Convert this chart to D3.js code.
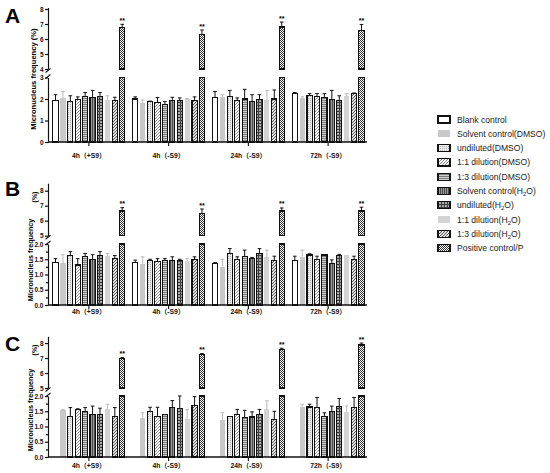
<!DOCTYPE html>
<html><head><meta charset="utf-8">
<script src="https://cdn.jsdelivr.net/npm/d3@7"></script>
<style>body{margin:0;background:#fff} svg{display:block}</style>
</head><body><svg id="c" width="550" height="473"></svg>
<script>
// ---------- DATA ----------
const groups = ["4h（+S9）", "4h（-S9）", "24h（-S9）", "72h（-S9）"];
const seriesNames = ["Blank control", "Solvent control(DMSO)", "undiluted(DMSO)", "1:1 dilution(DMSO)",
  "1:3 dilution(DMSO)", "Solvent control(H2O)", "undiluted(H2O)", "1:1 dilution(H2O)", "1:3 dilution(H2O)", "Positive control/P"];

// Panel A means / SD
const A_4hp = [1.92, 2.05, 1.87, 1.97, 2.10, 2.08, 2.10, 1.95, 1.95, 6.75];
const A_4hp_sd = [0.28, 0.30, 0.28, 0.13, 0.20, 0.32, 0.20, 0.20, 0.13, 0.23];
const A_4hm = [2.00, 1.80, 1.87, 1.82, 1.75, 1.93, 1.92, 1.98, 1.92, 6.33];
const A_4hm_sd = [0.10, 0.15, 0.03, 0.25, 0.13, 0.15, 0.13, 0.04, 0.18, 0.27];
const A_24h = [2.05, 2.08, 2.10, 1.95, 2.00, 1.88, 1.97, 1.95, 2.00, 6.80];
const A_24h_sd = [0.30, 0.12, 0.30, 0.10, 0.45, 0.32, 0.23, 0.45, 0.42, 0.33];
const A_72h = [2.25, 2.05, 2.15, 2.12, 2.08, 1.98, 1.92, 2.12, 2.25, 6.55];
const A_72h_sd = [0.05, 0.05, 0.10, 0.13, 0.17, 0.42, 0.23, 0.13, 0.03, 0.42];

// Panel B
const B_4hp = [1.40, 1.37, 1.62, 1.31, 1.58, 1.50, 1.62, 1.60, 1.53, 6.65];
const B_4hp_sd = [0.12, 0.28, 0.13, 0.21, 0.11, 0.15, 0.13, 0.09, 0.09, 0.22];
const B_4hm = [1.40, 1.33, 1.47, 1.42, 1.45, 1.47, 1.47, 1.44, 1.50, 6.50];
const B_4hm_sd = [0.07, 0.25, 0.03, 0.10, 0.07, 0.11, 0.03, 0.08, 0.08, 0.28];
const B_24h = [1.37, 1.26, 1.69, 1.50, 1.58, 1.53, 1.69, 1.56, 1.45, 6.65];
const B_24h_sd = [0.02, 0.24, 0.16, 0.08, 0.22, 0.03, 0.16, 0.24, 0.15, 0.20];
const B_72h = [1.45, 1.58, 1.64, 1.48, 1.64, 1.37, 1.63, 1.64, 1.50, 6.65];
const B_72h_sd = [0.15, 0.22, 0.04, 0.12, 0.01, 0.11, 0.03, 0.00, 0.10, 0.25];

// Panel C (no blank control)
const C_4hp = [null, 1.53, 1.33, 1.56, 1.48, 1.39, 1.39, 1.58, 1.33, 6.95];
const C_4hp_sd = [0, 0.02, 0.29, 0.02, 0.14, 0.28, 0.21, 0.15, 0.29, 0.08];
const C_4hm = [null, 1.27, 1.49, 1.32, 1.38, 1.63, 1.58, 1.24, 1.68, 7.22];
const C_4hm_sd = [0, 0.18, 0.14, 0.31, 0.01, 0.22, 0.42, 0.31, 0.30, 0.08];
const C_24h = [null, 1.21, 1.34, 1.38, 1.29, 1.31, 1.38, 1.56, 1.23, 7.55];
const C_24h_sd = [0, 0.24, 0.00, 0.18, 0.24, 0.17, 0.18, 0.28, 0.27, 0.10];
const C_72h = [null, 1.64, 1.64, 1.62, 1.32, 1.48, 1.67, 1.48, 1.62, 7.87];
const C_72h_sd = [0, 0.09, 0.09, 0.33, 0.13, 0.19, 0.25, 0.19, 0.33, 0.13];

const A_lowTicks = [0, 1, 2, 3], A_upTicks = [4, 5, 6, 7, 8];
const BC_lowTicks = [0, 0.5, 1.0, 1.5, 2.0], BC_upTicks = [5, 6, 7, 8];

// ---------- STYLE ----------
const svg = d3.select("#c");
const defs = svg.append("defs");
function pat(id, w, h, bg, cells) {
  const p = defs.append("pattern").attr("id", id).attr("patternUnits", "userSpaceOnUse")
    .attr("width", w).attr("height", h);
  p.append("rect").attr("width", w).attr("height", h).attr("fill", bg);
  cells.forEach(c => p.append("rect").attr("x", c[0]).attr("y", c[1]).attr("width", c[2]).attr("height", c[3]).attr("fill", c[4]));
}
pat("pDots", 2, 2, "#eaeaea", [[0, 0, 1, 1, "#b5b5b5"]]);
pat("pCheck", 3, 3, "#ffffff", [[0, 0, 1, 1, "#777"], [1, 2, 1, 1, "#999"], [2, 1, 1, 1, "#888"]]);
pat("pH", 2, 2, "#d2d2d2", [[0, 0, 2, 1, "#7a7a7a"]]);
pat("pV", 2, 2, "#9a9a9a", [[0, 0, 1, 2, "#4a4a4a"]]);
pat("pGrid", 3, 3, "#a8a8a8", [[0, 0, 3, 1, "#404040"], [0, 0, 1, 3, "#404040"]]);
pat("pX", 3, 3, "#e4e4e4", [[0, 0, 1, 1, "#555"], [2, 1, 1, 1, "#555"], [1, 2, 1, 1, "#555"]]);
pat("pPos", 2, 2, "#ffffff", [[0, 0, 1, 1, "#333"], [1, 1, 1, 1, "#333"]]);

const fills = ["#ffffff", "#c9c9c9", "url(#pDots)", "url(#pCheck)", "url(#pH)", "url(#pV)", "url(#pGrid)", "#d3d3d3", "url(#pX)", "url(#pPos)"];
const stroked = [true, false, true, true, true, true, true, false, true, true];
const font = "'Liberation Sans', Arial, 'Noto Sans CJK SC', sans-serif";

const x0 = d3.scaleBand().domain(groups).range([49, 368]).paddingInner(0.08).paddingOuter(0.04);
const x1 = d3.scaleBand().domain(d3.range(seriesNames.length)).range([0, x0.bandwidth()]).paddingInner(0.3).paddingOuter(0.1);

const panels = [
  { letter: "A", means: [A_4hp, A_4hm, A_24h, A_72h], sds: [A_4hp_sd, A_4hm_sd, A_24h_sd, A_72h_sd],
    lowTicks: A_lowTicks, upTicks: A_upTicks, lowMax: 3, upMin: 4, upMax: 8.1, fmt: d3.format("d"), minor: false,
    y0: 142, yLowTop: 77.5, yUpBot: 69, yUpTop: 7.5, labY: 157.5, letY: 23, letSize: 21, split: false, ylx: 33, yly: 79 },
  { letter: "B", means: [B_4hp, B_4hm, B_24h, B_72h], sds: [B_4hp_sd, B_4hm_sd, B_24h_sd, B_72h_sd],
    lowTicks: BC_lowTicks, upTicks: BC_upTicks, lowMax: 2, upMin: 5, upMax: 8.5, fmt: d3.format(".1f"), minor: true,
    y0: 305, yLowTop: 244, yUpBot: 235.7, yUpTop: 183.2, labY: 314, letY: 196, letSize: 21, split: true, ylx: 30.5, yly: 260, pcx: 34.5, pcy: 197 },
  { letter: "C", means: [C_4hp, C_4hm, C_24h, C_72h], sds: [C_4hp_sd, C_4hm_sd, C_24h_sd, C_72h_sd],
    lowTicks: BC_lowTicks, upTicks: BC_upTicks, lowMax: 2, upMin: 5, upMax: 8.45, fmt: d3.format(".1f"), minor: true,
    y0: 457, yLowTop: 396, yUpBot: 388, yUpTop: 336.3, labY: 467.5, letY: 351, letSize: 21, split: true, ylx: 30, yly: 410, pcx: 34, pcy: 350 }
];

panels.forEach(P => {
  const g = svg.append("g");
  const yLow = d3.scaleLinear().domain([0, P.lowMax]).range([P.y0, P.yLowTop]);
  const yUp = d3.scaleLinear().domain([P.upMin, P.upMax]).range([P.yUpBot, P.yUpTop]);

  // bars
  groups.forEach((gr, gi) => {
    P.means[gi].forEach((v, si) => {
      if (v == null) return;
      const sd = P.sds[gi][si];
      const bx = x0(gr) + x1(si), bw = x1.bandwidth();
      const st = stroked[si] ? "#111" : "none";
      const lowTop = yLow(Math.min(v, P.lowMax));
      g.append("rect").attr("x", bx).attr("y", lowTop).attr("width", bw).attr("height", P.y0 - lowTop)
        .attr("fill", fills[si]).attr("stroke", st).attr("stroke-width", 1.1).attr("shape-rendering", "crispEdges");
      let yTop, yErr;
      if (v > P.upMin) {
        yTop = yUp(v); yErr = yUp(v + sd);
        g.append("rect").attr("x", bx).attr("y", yTop).attr("width", bw).attr("height", P.yUpBot - yTop)
          .attr("fill", fills[si]).attr("stroke", st).attr("stroke-width", 1.1).attr("shape-rendering", "crispEdges");
      } else { yTop = yLow(v); yErr = yLow(v + sd); }
      const ec = stroked[si] ? "#111" : "#b8b8b8";
      const cx = bx + bw / 2;
      if (sd > 0) {
        g.append("line").attr("x1", cx).attr("x2", cx).attr("y1", yTop).attr("y2", yErr).attr("stroke", ec).attr("stroke-width", 1);
        g.append("line").attr("x1", cx - 1.8).attr("x2", cx + 1.8).attr("y1", yErr).attr("y2", yErr).attr("stroke", ec).attr("stroke-width", 1);
      }
      if (si === seriesNames.length - 1) {
        g.append("text").attr("x", cx).attr("y", yErr - 1.5).attr("text-anchor", "middle")
          .attr("font-family", font).attr("font-size", 7).attr("font-weight", "bold").text("**");
      }
    });
  });

  // y axes
  const styleAxis = sel => {
    sel.selectAll("path,line").attr("stroke", "#111").attr("stroke-width", 1.2);
    sel.selectAll("text").attr("font-family", font).attr("font-size", 6.5).attr("font-weight", "bold").attr("fill", "#111");
  };
  g.append("g").attr("transform", "translate(48,0)")
    .call(d3.axisLeft(yLow).tickValues(P.lowTicks).tickFormat(P.fmt).tickSize(3).tickSizeOuter(0).tickPadding(1.5)).call(styleAxis);
  g.append("g").attr("transform", "translate(48,0)")
    .call(d3.axisLeft(yUp).tickValues(P.upTicks).tickFormat(d3.format("d")).tickSize(3).tickSizeOuter(0).tickPadding(1.5)).call(styleAxis);
  if (P.minor) {
    const mt = d3.range(0.25, P.lowMax, 0.5);
    g.append("g").attr("transform", "translate(48,0)")
      .call(d3.axisLeft(yLow).tickValues(mt).tickFormat("").tickSize(2).tickSizeOuter(0)).call(styleAxis)
      .select(".domain").remove();
  }
  // break marks
  [P.yUpBot + 1.5, P.yLowTop - 1].forEach(yy => {
    g.append("line").attr("x1", 45.5).attr("x2", 50.5).attr("y1", yy + 2).attr("y2", yy - 2)
      .attr("stroke", "#111").attr("stroke-width", 1.1);
  });

  // x axis
  const xa = g.append("g").attr("transform", `translate(0,${P.y0})`);
  xa.append("line").attr("x1", 48).attr("x2", 367).attr("stroke", "#111").attr("stroke-width", 1.3);
  groups.forEach(gr => {
    const cx = x0(gr) + x0.bandwidth() / 2;
    xa.append("line").attr("x1", cx).attr("x2", cx).attr("y1", 0).attr("y2", 4).attr("stroke", "#111").attr("stroke-width", 1.1);
    g.append("text").attr("x", cx).attr("y", P.labY).attr("text-anchor", "middle")
      .attr("font-family", font).attr("font-size", 6.8).attr("font-weight", "bold").attr("fill", "#111").text(gr);
  });

  // panel letter
  g.append("text").attr("x", 5).attr("y", P.letY).attr("font-family", font).attr("font-size", P.letSize)
    .attr("font-weight", "bold").text(P.letter);

  // y label
  if (!P.split) {
    g.append("text").attr("transform", `translate(${P.ylx},${P.yly}) rotate(-90)`).attr("text-anchor", "middle")
      .attr("dominant-baseline", "central").attr("font-family", font).attr("font-size", 7.6).attr("font-weight", "bold")
      .text("Micronucleus frequency (%)");
  } else {
    g.append("text").attr("transform", `translate(${P.ylx},${P.yly}) rotate(-90)`).attr("text-anchor", "middle")
      .attr("dominant-baseline", "central").attr("font-family", font).attr("font-size", 7.2).attr("font-weight", "bold")
      .text("Micronucleus frequency");
    g.append("text").attr("transform", `translate(${P.pcx},${P.pcy}) rotate(-90)`).attr("text-anchor", "middle")
      .attr("dominant-baseline", "central").attr("font-family", font).attr("font-size", 7).attr("font-weight", "bold")
      .text("(%)");
  }
});

// legend
const lg = svg.append("g");
seriesNames.forEach((name, i) => {
  const yy = 119.5 + i * 14.3;
  lg.append("rect").attr("x", 438).attr("y", yy - 3.5).attr("width", 12).attr("height", 7)
    .attr("fill", fills[i]).attr("stroke", stroked[i] ? "#111" : "none").attr("stroke-width", 1.2)
    .attr("shape-rendering", "crispEdges");
  const t = lg.append("text").attr("x", 457).attr("y", yy + 3).attr("font-family", font)
    .attr("font-size", 8.6).attr("fill", "#222");
  const m = name.match(/^(.*)H2O(.*)$/);
  if (m) {
    t.append("tspan").text(m[1] + "H");
    t.append("tspan").attr("font-size", 6).attr("dy", 2).text("2");
    t.append("tspan").attr("dy", -2).text("O" + m[2]);
  } else t.text(name);
});
</script></body></html>
